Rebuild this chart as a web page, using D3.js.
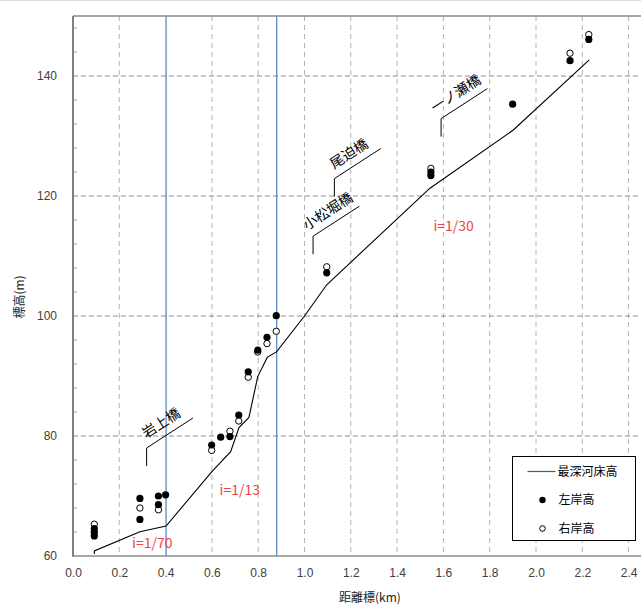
<!DOCTYPE html>
<html>
<head>
<meta charset="utf-8">
<script src="https://cdn.jsdelivr.net/npm/d3@7"></script>
<style>
    body { margin: 0; background: #fff; }
    svg { display: block; font-family: "Noto Sans CJK JP", "Noto Sans", sans-serif; }
</style>
</head>
<body>
<div id="chart"></div>
<script>
// 最深河床高 (thalweg)
const thalwegKm = [0.092, 0.092, 0.289, 0.402, 0.6, 0.681, 0.717, 0.76, 0.798, 0.839, 0.88, 1.0, 1.096, 1.542, 1.902, 2.23];
const thalwegEl = [60.35, 60.85, 64.05, 65.0, 74.05, 77.4, 81.4, 83.1, 89.9, 93.1, 94.05, 100.0, 105.2, 121.3, 131.0, 142.7];

// 左岸高 (filled)
const leftKm = [0.092, 0.092, 0.092, 0.289, 0.289, 0.369, 0.369, 0.400, 0.599, 0.638, 0.678, 0.716, 0.757, 0.798, 0.838, 0.878, 1.096, 1.546, 1.546, 1.899, 2.147, 2.228];
const leftEl = [64.55, 63.95, 63.35, 69.6, 66.1, 70.0, 68.55, 70.2, 78.5, 79.8, 79.9, 83.5, 90.7, 94.3, 96.45, 100.05, 107.2, 123.4, 124.0, 135.3, 142.55, 146.1];

// 右岸高 (open)
const rightKm = [0.092, 0.289, 0.369, 0.599, 0.678, 0.716, 0.757, 0.798, 0.838, 0.878, 1.096, 1.546, 2.147, 2.228];
const rightEl = [65.3, 68.0, 67.7, 77.6, 80.8, 82.5, 89.8, 94.0, 95.4, 97.45, 108.2, 124.6, 143.8, 146.9];

// bridges
const bridgeNames = ["岩上橋", "小松堀橋", "尾迫橋", "一ノ瀬橋"];
const bridgeKm = [0.318, 1.037, 1.129, 1.590];
const bridgeEl = [75.0, 110.3, 119.9, 129.9];

// gradient sections
const sectionKm = [0.402, 0.88];
const slopeLabels = ["i=1/70", "i=1/13", "i=1/30"];
const slopeKm = [0.255, 0.633, 1.557];
const slopeEl = [61.3, 70.2, 114.2];

const xTicks = d3.range(0, 2.41, 0.2);
const yTicks = [60, 80, 100, 120, 140];

const width = 641, height = 607;

const x = d3.scaleLinear().domain([0, 2.4]).range([73, 628.6]);
const y = d3.scaleLinear().domain([60, 150]).range([556, 16]);

const svg = d3.select("#chart").append("svg")
    .attr("width", width)
    .attr("height", height);

// faint strip at very top
svg.append("line")
    .attr("x1", 0).attr("x2", width).attr("y1", 0.5).attr("y2", 0.5)
    .attr("stroke", "#dcdcdc");

// vertical grid
svg.append("g")
    .selectAll("line")
    .data(xTicks.filter(d => d > 0.01 && Math.abs(d - 0.4) > 0.01))
    .join("line")
        .attr("x1", d => x(d)).attr("x2", d => x(d))
        .attr("y1", y(150)).attr("y2", y(60))
        .attr("stroke", "#b4b4b4")
        .attr("stroke-dasharray", "5,4");

// horizontal grid
svg.append("g")
    .selectAll("line")
    .data(yTicks.filter(d => d > 60))
    .join("line")
        .attr("x1", x(0)).attr("x2", width)
        .attr("y1", d => y(d)).attr("y2", d => y(d))
        .attr("stroke", "#8c8c8c")
        .attr("stroke-dasharray", "5,3");

// section boundaries
svg.append("g")
    .selectAll("line")
    .data(sectionKm)
    .join("line")
        .attr("x1", d => x(d)).attr("x2", d => x(d))
        .attr("y1", y(150)).attr("y2", y(60))
        .attr("stroke", "#4f7fbf")
        .attr("stroke-width", 1.2);

// axes
const yAxis = d3.axisLeft(y).tickValues(yTicks).tickSize(0).tickPadding(16);
svg.append("g")
    .attr("transform", `translate(${x(0)},0)`)
    .call(yAxis)
    .call(g => g.select(".domain").remove())
    .call(g => g.selectAll("text").attr("font-size", 12).attr("fill", "#404040"));

const xAxis = d3.axisBottom(x).tickValues(xTicks).tickSize(0).tickPadding(12).tickFormat(d3.format(".1f"));
svg.append("g")
    .attr("transform", `translate(0,${y(60)})`)
    .call(xAxis)
    .call(g => g.select(".domain").remove())
    .call(g => g.selectAll("text").attr("font-size", 12).attr("fill", "#404040"));

// minor ticks on left axis
svg.append("g")
    .selectAll("line")
    .data(d3.range(64, 150, 4).filter(d => d % 20 !== 0))
    .join("line")
        .attr("x1", x(0)).attr("x2", x(0) + 4)
        .attr("y1", d => y(d)).attr("y2", d => y(d))
        .attr("stroke", "#9a9a9a");

// frame lines
svg.append("line")
    .attr("x1", x(0)).attr("x2", width).attr("y1", y(150)).attr("y2", y(150))
    .attr("stroke", "#8a8a8a").attr("stroke-width", 1.5);
svg.append("line")
    .attr("x1", x(0)).attr("x2", width).attr("y1", y(60)).attr("y2", y(60))
    .attr("stroke", "#8a8a8a").attr("stroke-width", 1.5);
svg.append("line")
    .attr("x1", x(0)).attr("x2", x(0)).attr("y1", y(150)).attr("y2", y(60) + 0.75)
    .attr("stroke", "#808080").attr("stroke-width", 2);

// axis titles
svg.append("text")
    .attr("x", 370).attr("y", 602)
    .attr("text-anchor", "middle")
    .attr("font-size", 12)
    .attr("fill", "#222")
    .text("距離標(km)");
svg.append("text")
    .attr("transform", "translate(24,297) rotate(-90)")
    .attr("text-anchor", "middle")
    .attr("font-size", 12)
    .attr("fill", "#222")
    .text("標高(m)");

// thalweg line
const thalweg = thalwegKm.map((d, i) => [d, thalwegEl[i]]);
svg.append("path")
    .datum(thalweg)
    .attr("fill", "none")
    .attr("stroke", "#000")
    .attr("stroke-width", 1.1)
    .attr("d", d3.line().x(d => x(d[0])).y(d => y(d[1])));

// right bank (open)
svg.append("g")
    .selectAll("circle")
    .data(rightKm.map((d, i) => [d, rightEl[i]]))
    .join("circle")
        .attr("cx", d => x(d[0])).attr("cy", d => y(d[1]))
        .attr("r", 3.2)
        .attr("fill", "#fff")
        .attr("stroke", "#000")
        .attr("stroke-width", 1);

// left bank (filled)
svg.append("g")
    .selectAll("circle")
    .data(leftKm.map((d, i) => [d, leftEl[i]]))
    .join("circle")
        .attr("cx", d => x(d[0])).attr("cy", d => y(d[1]))
        .attr("r", 3.6)
        .attr("fill", "#000");

// bridge leaders + names
const bridges = svg.append("g")
    .selectAll("g")
    .data(bridgeNames.map((name, i) => ({name: name, km: bridgeKm[i], el: bridgeEl[i]})))
    .join("g");

bridges.append("path")
    .attr("fill", "none")
    .attr("stroke", "#000")
    .attr("stroke-width", 1)
    .attr("d", d => d3.line()([
        [x(d.km), y(d.el)],
        [x(d.km), y(d.el + 3)],
        [x(d.km + 0.2), y(d.el + 8)]
    ]));

bridges.append("text")
    .attr("transform", d => {
        const x0 = x(d.km), y0 = y(d.el + 3);
        const x1 = x(d.km + 0.2), y1 = y(d.el + 8);
        const ang = Math.atan2(y1 - y0, x1 - x0) * 180 / Math.PI;
        return `translate(${(x0 + x1) / 2 - 2},${(y0 + y1) / 2}) rotate(${ang})`;
    })
    .attr("dy", -7)
    .attr("text-anchor", "middle")
    .attr("font-size", 14)
    .attr("fill", "#000")
    .text(d => d.name);

// gradient labels
svg.append("g")
    .selectAll("text")
    .data(slopeLabels)
    .join("text")
        .attr("x", (d, i) => x(slopeKm[i]))
        .attr("y", (d, i) => y(slopeEl[i]))
        .attr("font-size", 14)
        .attr("fill", "#ee4646")
        .text(d => d);

// legend
const legend = svg.append("g").attr("transform", "translate(512.5,456.5)");
legend.append("rect")
    .attr("width", 123).attr("height", 84)
    .attr("fill", "#fff")
    .attr("stroke", "#000")
    .attr("stroke-width", 1);
legend.append("line")
    .attr("x1", 15).attr("x2", 43).attr("y1", 15).attr("y2", 15)
    .attr("stroke", "#555").attr("stroke-width", 1.2);
legend.append("circle")
    .attr("cx", 30).attr("cy", 43.5).attr("r", 3.2).attr("fill", "#000");
legend.append("circle")
    .attr("cx", 30).attr("cy", 72).attr("r", 2.8)
    .attr("fill", "#fff").attr("stroke", "#000");
const legendText = ["最深河床高", "左岸高", "右岸高"];
legend.selectAll("text.lbl")
    .data(legendText)
    .join("text")
        .attr("class", "lbl")
        .attr("x", (d, i) => i === 0 ? 45 : 46)
        .attr("y", (d, i) => 15 + i * 28.5)
        .attr("dy", "0.35em")
        .attr("font-size", 12)
        .attr("fill", "#000")
        .text(d => d);
</script>
</body>
</html>
